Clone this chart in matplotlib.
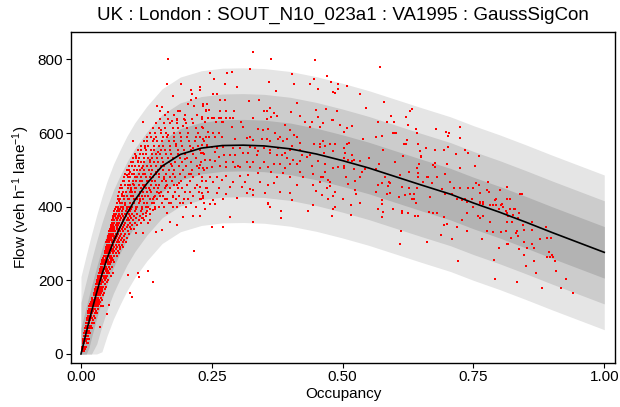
import matplotlib
matplotlib.use("Agg")
import matplotlib.pyplot as plt
import numpy as np

plt.rcParams['font.family'] = ['Liberation Sans', 'DejaVu Sans']
plt.rcParams['mathtext.fontset'] = 'custom'
plt.rcParams['mathtext.rm'] = 'Liberation Sans'
plt.rcParams['mathtext.it'] = 'Liberation Sans:italic'

title = "UK : London : SOUT_N10_023a1 : VA1995 : GaussSigCon"
x_label = "Occupancy"
y_label = r"Flow (veh h$^{-1}$ lane$^{-1}$)"
x_ticks = [0.0, 0.25, 0.5, 0.75, 1.0]
x_tick_labels = ["0.00", "0.25", "0.50", "0.75", "1.00"]
y_ticks = [0, 200, 400, 600, 800]

# fitted model curve
curve_occ = [0, 0.005, 0.01, 0.015, 0.02, 0.03, 0.04, 0.05, 0.062, 0.075, 0.088, 0.103,
             0.126, 0.155, 0.19, 0.23, 0.27, 0.31, 0.35, 0.40, 0.45, 0.50, 0.55,
             0.60, 0.65, 0.706, 0.75, 0.80, 0.85, 0.90, 0.95, 1.0]
curve_flow = [0, 29, 58, 86, 114, 167, 216, 260, 305, 345, 382, 418,
              463, 510, 542, 559, 566, 567, 565, 557, 543, 525, 505,
              482, 459, 434, 410, 385, 358, 330, 303, 276]
sigma = 70
band_k = [3, 2, 1]
band_colors = ['#e5e5e5', '#cccccc', '#b3b3b3']

# observations, low occupancy: rows of equal flow
low_row_flow = [7, 14, 20, 29, 35, 42, 49, 56, 63, 70, 77, 84, 91, 98, 104, 111, 117, 123,
                129, 135, 141, 147, 153, 159, 165, 171, 177, 183, 189, 195, 201, 207,
                213, 219, 225, 231, 237, 243, 249, 255, 261, 267, 273, 279, 285, 291,
                297, 303, 309, 315, 321, 327, 333, 339, 345, 351, 357, 363, 369, 375,
                381, 387, 393]
low_row_occ = [
    [0.001, 0.002, 0.004, 0.006],
    [0.001, 0.003, 0.005, 0.008],
    [0.002, 0.004, 0.007, 0.009],
    [0.003, 0.004, 0.006, 0.011, 0.013],
    [0.004, 0.008, 0.010],
    [0.004, 0.006, 0.009, 0.012, 0.015],
    [0.005, 0.008, 0.011, 0.013],
    [0.006, 0.007, 0.010, 0.014, 0.017],
    [0.007, 0.009, 0.012, 0.016],
    [0.008, 0.011, 0.013, 0.015, 0.019, 0.022],
    [0.009, 0.012, 0.017, 0.020],
    [0.010, 0.011, 0.014, 0.016, 0.021, 0.025],
    [0.011, 0.013, 0.018, 0.023],
    [0.012, 0.014, 0.016, 0.019, 0.022, 0.027],
    [0.013, 0.015, 0.020, 0.024],
    [0.013, 0.016, 0.019, 0.021, 0.026, 0.030],
    [0.014, 0.018, 0.023, 0.028],
    [0.015, 0.017, 0.020, 0.025, 0.027, 0.033],
    [0.016, 0.019, 0.022, 0.024, 0.029, 0.032, 0.038, 0.043],
    [0.018, 0.021, 0.026, 0.030, 0.035],
    [0.019, 0.023, 0.025, 0.028, 0.033, 0.037],
    [0.021, 0.024, 0.027, 0.031, 0.034, 0.040],
    [0.022, 0.026, 0.029, 0.033, 0.038],
    [0.024, 0.027, 0.030, 0.032, 0.036, 0.042],
    [0.025, 0.028, 0.031, 0.035, 0.039, 0.044],
    [0.026, 0.030, 0.033, 0.037, 0.041],
    [0.027, 0.029, 0.032, 0.036, 0.040, 0.046],
    [0.028, 0.031, 0.034, 0.038, 0.043, 0.047],
    [0.029, 0.033, 0.036, 0.039, 0.045],
    [0.030, 0.032, 0.035, 0.040, 0.043, 0.049],
    [0.031, 0.034, 0.037, 0.041, 0.046, 0.051],
    [0.032, 0.036, 0.039, 0.044, 0.048],
    [0.033, 0.035, 0.038, 0.042, 0.045, 0.050, 0.057],
    [0.034, 0.037, 0.041, 0.044, 0.049, 0.053, 0.061],
    [0.036, 0.040, 0.043, 0.047, 0.052],
    [0.037, 0.039, 0.042, 0.046, 0.050, 0.055],
    [0.038, 0.041, 0.045, 0.048, 0.053, 0.059],
    [0.039, 0.043, 0.046, 0.051, 0.056],
    [0.040, 0.042, 0.045, 0.049, 0.054, 0.058, 0.064],
    [0.041, 0.044, 0.048, 0.052, 0.057, 0.062],
    [0.043, 0.047, 0.050, 0.055, 0.060],
    [0.044, 0.046, 0.049, 0.053, 0.058, 0.063, 0.068],
    [0.045, 0.048, 0.052, 0.056, 0.061, 0.066, 0.072],
    [0.046, 0.050, 0.054, 0.059, 0.064, 0.070],
    [0.047, 0.049, 0.053, 0.057, 0.062, 0.067, 0.075],
    [0.048, 0.051, 0.055, 0.058, 0.063, 0.069, 0.074, 0.080],
    [0.049, 0.053, 0.057, 0.061, 0.066, 0.072, 0.078],
    [0.047, 0.050, 0.054, 0.059, 0.064, 0.068, 0.073, 0.081, 0.086],
    [0.050, 0.052, 0.056, 0.060, 0.065, 0.070, 0.076, 0.083],
    [0.051, 0.055, 0.058, 0.063, 0.067, 0.072, 0.079, 0.088],
    [0.052, 0.056, 0.060, 0.064, 0.069, 0.075, 0.082],
    [0.053, 0.055, 0.059, 0.062, 0.066, 0.071, 0.077, 0.085, 0.092],
    [0.054, 0.058, 0.061, 0.065, 0.070, 0.074, 0.080, 0.089],
    [0.055, 0.059, 0.063, 0.068, 0.072, 0.078, 0.084, 0.095, 0.101],
    [0.057, 0.060, 0.064, 0.069, 0.075, 0.081, 0.087, 0.093],
    [0.058, 0.062, 0.066, 0.071, 0.076, 0.083, 0.090, 0.098, 0.107],
    [0.059, 0.063, 0.068, 0.073, 0.079, 0.085, 0.094, 0.103, 0.114],
    [0.060, 0.064, 0.069, 0.074, 0.080, 0.087, 0.091, 0.099, 0.110, 0.121],
    [0.061, 0.066, 0.071, 0.077, 0.083, 0.089, 0.096, 0.106, 0.117],
    [0.062, 0.065, 0.070, 0.075, 0.081, 0.086, 0.093, 0.101, 0.112, 0.125],
    [0.063, 0.067, 0.072, 0.078, 0.084, 0.091, 0.098, 0.108, 0.119, 0.131],
    [0.064, 0.068, 0.073, 0.079, 0.086, 0.094, 0.103, 0.114, 0.127],
    [0.065, 0.070, 0.075, 0.081, 0.088, 0.096, 0.105, 0.117, 0.131, 0.142],
]

# observations, dense core: rows of equal flow
dense_row_flow = [400, 410, 420, 430, 440, 450, 460, 470, 480, 490, 500, 510, 521,
                  532, 543, 554, 565, 577, 589, 601, 613, 626, 639, 650]
dense_row_occ = [
    [0.066, 0.070, 0.077, 0.080, 0.088, 0.091, 0.097, 0.105, 0.108, 0.117, 0.124, 0.129, 0.141, 0.149, 0.158, 0.175, 0.183, 0.201, 0.219],
    [0.068, 0.075, 0.079, 0.085, 0.094, 0.099, 0.102, 0.111, 0.120, 0.126, 0.135, 0.139, 0.154, 0.168, 0.172, 0.190, 0.211, 0.236],
    [0.071, 0.074, 0.083, 0.089, 0.092, 0.101, 0.107, 0.113, 0.118, 0.131, 0.137, 0.146, 0.160, 0.165, 0.181, 0.196, 0.205, 0.228],
    [0.070, 0.078, 0.082, 0.087, 0.096, 0.100, 0.110, 0.116, 0.123, 0.128, 0.142, 0.151, 0.157, 0.176, 0.187, 0.214, 0.233],
    [0.073, 0.080, 0.086, 0.093, 0.097, 0.104, 0.113, 0.119, 0.127, 0.134, 0.145, 0.152, 0.167, 0.179, 0.199, 0.208, 0.226],
    [0.075, 0.079, 0.089, 0.095, 0.103, 0.106, 0.115, 0.124, 0.130, 0.140, 0.147, 0.161, 0.170, 0.186, 0.193, 0.218, 0.239],
    [0.077, 0.084, 0.090, 0.094, 0.101, 0.110, 0.118, 0.122, 0.133, 0.143, 0.150, 0.164, 0.178, 0.184, 0.203, 0.222],
    [0.080, 0.083, 0.092, 0.099, 0.105, 0.112, 0.117, 0.128, 0.136, 0.141, 0.155, 0.162, 0.174, 0.192, 0.209, 0.231],
    [0.082, 0.089, 0.093, 0.103, 0.108, 0.114, 0.125, 0.131, 0.138, 0.149, 0.158, 0.171, 0.180, 0.198, 0.215],
    [0.084, 0.091, 0.098, 0.102, 0.111, 0.119, 0.123, 0.134, 0.144, 0.150, 0.163, 0.176, 0.189, 0.206, 0.226],
    [0.088, 0.092, 0.101, 0.107, 0.112, 0.121, 0.130, 0.136, 0.147, 0.156, 0.168, 0.177, 0.195, 0.213, 0.235],
    [0.091, 0.097, 0.104, 0.110, 0.118, 0.126, 0.133, 0.144, 0.152, 0.159, 0.173, 0.187, 0.200, 0.221],
    [0.095, 0.100, 0.109, 0.115, 0.121, 0.132, 0.139, 0.148, 0.157, 0.169, 0.180, 0.194, 0.211, 0.229],
    [0.099, 0.106, 0.111, 0.120, 0.128, 0.135, 0.146, 0.154, 0.166, 0.175, 0.189, 0.203, 0.219],
    [0.104, 0.112, 0.118, 0.125, 0.136, 0.143, 0.151, 0.163, 0.172, 0.186, 0.198, 0.214, 0.236],
    [0.109, 0.115, 0.124, 0.133, 0.140, 0.152, 0.160, 0.171, 0.185, 0.196, 0.210, 0.227],
    [0.114, 0.122, 0.128, 0.139, 0.149, 0.157, 0.170, 0.181, 0.193, 0.208, 0.224, 0.241],
    [0.120, 0.127, 0.137, 0.146, 0.155, 0.168, 0.178, 0.192, 0.206, 0.218, 0.235],
    [0.126, 0.134, 0.143, 0.156, 0.165, 0.177, 0.191, 0.203, 0.220, 0.238],
    [0.131, 0.142, 0.153, 0.163, 0.178, 0.189, 0.205, 0.224],
    [0.138, 0.149, 0.161, 0.175, 0.186, 0.203, 0.219, 0.234],
    [0.144, 0.158, 0.170, 0.184, 0.201, 0.215],
    [0.151, 0.166, 0.183, 0.197, 0.213, 0.232],
    [0.160, 0.178, 0.199, 0.222],
]

# observations, scattered points (occupancy, flow)
pts_dense_extra = [
    (0.085, 405), (0.112, 416), (0.139, 426), (0.096, 446), (0.121, 455), (0.158, 475),
    (0.088, 485), (0.143, 495), (0.117, 505), (0.172, 515), (0.131, 527), (0.105, 537),
    (0.148, 548), (0.122, 560), (0.181, 571), (0.140, 583), (0.166, 595), (0.152, 607),
    (0.195, 620), (0.173, 632), (0.186, 660), (0.205, 680), (0.175, 700), (0.212, 705),
    (0.100, 462), (0.078, 435), (0.072, 415), (0.131, 445), (0.163, 455), (0.187, 465),
    (0.210, 490), (0.225, 505), (0.198, 530), (0.230, 545), (0.215, 560), (0.109, 525),
    (0.094, 495), (0.127, 470), (0.150, 437), (0.176, 425), (0.195, 410), (0.230, 420),
    (0.239, 470),
]
pts_upper_left = [
    (0.166, 800), (0.165, 733), (0.192, 734), (0.211, 718), (0.227, 718), (0.210, 691),
    (0.220, 694), (0.216, 673), (0.234, 674), (0.239, 662), (0.145, 674), (0.154, 671),
    (0.151, 659), (0.167, 658), (0.119, 630), (0.100, 578), (0.190, 659), (0.199, 635),
    (0.183, 635), (0.243, 640),
]
pts_middle = [
    (0.329, 819), (0.363, 800), (0.447, 798), (0.323, 775), (0.247, 764), (0.280, 764),
    (0.289, 766), (0.254, 748), (0.470, 755), (0.403, 759), (0.275, 734), (0.298, 725),
    (0.359, 739), (0.407, 734), (0.438, 734), (0.445, 748), (0.228, 725), (0.373, 714),
    (0.452, 719), (0.253, 707), (0.259, 705), (0.322, 687), (0.341, 689), (0.266, 689),
    (0.275, 689), (0.234, 678), (0.241, 680), (0.239, 660), (0.245, 662), (0.266, 660),
    (0.277, 660), (0.292, 660), (0.349, 660), (0.355, 660), (0.361, 667), (0.412, 682),
    (0.401, 658), (0.369, 655), (0.375, 646), (0.450, 662), (0.468, 664), (0.232, 644),
    (0.250, 642), (0.254, 642), (0.263, 641), (0.278, 642), (0.284, 642), (0.267, 640),
    (0.291, 642), (0.329, 642), (0.355, 638), (0.364, 644), (0.419, 646), (0.452, 644),
    (0.428, 631), (0.441, 631), (0.438, 615), (0.457, 615), (0.463, 628), (0.237, 631),
    (0.258, 630), (0.269, 631), (0.272, 631), (0.288, 615), (0.305, 631), (0.310, 615),
    (0.347, 608), (0.339, 610), (0.358, 610), (0.371, 599), (0.390, 621), (0.399, 608),
    (0.380, 590), (0.377, 584), (0.393, 583), (0.407, 594), (0.412, 588), (0.231, 615),
    (0.243, 603), (0.253, 601), (0.263, 599), (0.228, 590), (0.233, 585), (0.245, 590),
    (0.256, 588), (0.269, 588), (0.294, 584), (0.317, 587), (0.323, 588), (0.329, 581),
    (0.345, 584), (0.355, 583), (0.361, 579), (0.387, 579), (0.403, 564), (0.419, 572),
    (0.445, 570), (0.456, 570), (0.466, 564), (0.231, 567), (0.240, 567), (0.250, 563),
    (0.259, 558), (0.272, 563), (0.291, 558), (0.304, 558), (0.323, 561), (0.333, 560),
    (0.339, 551), (0.349, 558), (0.361, 554), (0.377, 558), (0.390, 547), (0.399, 554),
    (0.419, 554), (0.422, 540), (0.438, 540), (0.464, 546), (0.234, 545), (0.256, 549),
    (0.264, 536), (0.273, 540), (0.284, 540), (0.294, 540), (0.310, 545), (0.320, 545),
    (0.336, 540), (0.361, 545), (0.374, 540), (0.384, 540), (0.393, 531), (0.406, 527),
    (0.419, 525), (0.431, 534), (0.237, 527), (0.247, 527), (0.256, 525), (0.277, 522),
    (0.291, 522), (0.301, 511), (0.317, 522), (0.329, 522), (0.349, 522), (0.368, 517),
    (0.380, 517), (0.399, 516), (0.412, 517), (0.441, 510), (0.452, 525), (0.466, 517),
    (0.228, 513), (0.234, 504), (0.240, 504), (0.250, 508), (0.266, 510), (0.278, 508),
    (0.294, 508), (0.304, 508), (0.323, 508), (0.342, 504), (0.358, 508), (0.390, 504),
    (0.364, 495), (0.387, 492), (0.419, 495), (0.444, 490), (0.466, 495), (0.231, 481),
    (0.247, 481), (0.259, 481), (0.278, 483), (0.304, 483), (0.320, 486), (0.339, 492),
    (0.374, 481), (0.399, 481), (0.425, 481), (0.458, 481), (0.473, 472), (0.253, 468),
    (0.269, 472), (0.291, 468), (0.314, 468), (0.342, 468), (0.358, 459), (0.368, 465),
    (0.412, 459), (0.444, 459), (0.457, 468), (0.228, 454), (0.240, 450), (0.263, 450),
    (0.285, 454), (0.307, 454), (0.323, 447), (0.231, 436), (0.243, 441), (0.259, 436),
    (0.277, 434), (0.317, 436), (0.329, 445), (0.352, 436), (0.380, 441), (0.399, 436),
    (0.450, 443), (0.470, 450), (0.234, 423), (0.253, 418), (0.272, 420), (0.298, 423),
    (0.329, 432), (0.358, 409), (0.403, 418), (0.444, 405), (0.247, 406), (0.256, 407),
    (0.361, 400), (0.237, 395),
]
pts_upper_right = [
    (0.572, 780), (0.470, 755), (0.477, 739), (0.492, 734), (0.508, 728), (0.482, 712),
    (0.486, 709), (0.492, 719), (0.533, 705), (0.580, 683), (0.544, 667), (0.468, 664),
    (0.490, 659), (0.632, 665), (0.628, 660), (0.593, 646), (0.621, 644), (0.479, 635),
    (0.482, 635), (0.568, 631), (0.584, 631), (0.599, 630), (0.495, 623), (0.518, 619),
    (0.625, 621), (0.508, 613), (0.502, 603), (0.640, 611), (0.679, 611), (0.698, 602),
    (0.704, 601), (0.701, 593), (0.725, 615), (0.596, 599), (0.599, 599), (0.602, 599),
    (0.642, 599), (0.564, 590), (0.575, 591), (0.539, 583), (0.725, 586), (0.623, 581),
    (0.463, 579), (0.618, 571), (0.621, 570), (0.645, 570), (0.659, 559), (0.513, 574),
    (0.508, 569), (0.502, 558), (0.486, 570), (0.476, 569), (0.578, 554), (0.677, 555),
    (0.693, 554), (0.648, 552), (0.702, 563), (0.717, 543), (0.734, 554), (0.740, 545),
    (0.457, 563), (0.482, 551), (0.505, 547), (0.518, 540), (0.502, 531), (0.511, 527),
    (0.518, 525), (0.521, 528), (0.551, 531), (0.533, 524), (0.492, 508), (0.502, 511),
    (0.502, 505), (0.481, 504), (0.521, 501), (0.570, 516), (0.543, 502), (0.564, 502),
    (0.600, 522), (0.615, 538), (0.649, 537), (0.649, 534), (0.646, 517), (0.672, 513),
    (0.677, 519), (0.677, 508), (0.699, 517), (0.725, 504), (0.626, 495), (0.643, 504),
    (0.644, 492), (0.664, 481), (0.680, 480), (0.695, 490), (0.661, 480), (0.463, 480),
    (0.506, 480), (0.533, 480), (0.537, 494), (0.581, 481), (0.575, 463), (0.568, 459),
    (0.610, 486), (0.645, 480), (0.588, 468), (0.591, 463), (0.586, 457), (0.613, 454),
    (0.626, 450), (0.642, 450), (0.653, 468), (0.670, 463), (0.690, 447), (0.705, 468),
    (0.712, 450), (0.725, 450), (0.740, 450), (0.728, 418), (0.476, 468), (0.476, 456),
    (0.510, 461), (0.524, 470), (0.524, 445), (0.526, 434), (0.486, 439), (0.482, 429),
    (0.460, 432), (0.473, 420), (0.500, 420), (0.564, 440), (0.584, 434), (0.590, 436),
    (0.619, 432), (0.629, 434), (0.637, 434), (0.608, 427), (0.575, 419), (0.575, 406),
    (0.632, 420), (0.637, 420), (0.640, 411), (0.667, 427), (0.695, 434), (0.709, 434),
    (0.718, 420), (0.733, 420), (0.737, 414), (0.533, 409), (0.516, 405), (0.486, 400),
    (0.481, 395), (0.568, 395), (0.596, 395), (0.578, 385), (0.613, 389), (0.613, 382),
    (0.624, 384), (0.639, 376), (0.645, 376), (0.666, 386), (0.672, 384), (0.693, 373),
    (0.680, 384), (0.728, 364), (0.737, 384), (0.480, 375), (0.516, 377), (0.575, 371),
    (0.693, 350), (0.699, 352), (0.718, 344), (0.737, 335), (0.688, 324), (0.709, 311),
    (0.611, 335), (0.609, 300), (0.662, 304), (0.721, 253),
]
pts_right = [
    (0.760, 538), (0.753, 510), (0.750, 450), (0.755, 465), (0.760, 459), (0.762, 436),
    (0.777, 466), (0.776, 445), (0.779, 439), (0.800, 444), (0.814, 454), (0.839, 434),
    (0.842, 434), (0.814, 420), (0.820, 420), (0.793, 420), (0.781, 404), (0.788, 404),
    (0.769, 413), (0.763, 412), (0.747, 422), (0.830, 395), (0.804, 407), (0.763, 411),
    (0.768, 407), (0.782, 404), (0.793, 404), (0.802, 404), (0.791, 418), (0.750, 398),
    (0.758, 375), (0.763, 368), (0.769, 375), (0.782, 359), (0.798, 395), (0.806, 398),
    (0.813, 388), (0.814, 382), (0.816, 376), (0.825, 377), (0.820, 395), (0.828, 395),
    (0.838, 382), (0.835, 368), (0.823, 359), (0.814, 359), (0.813, 334), (0.803, 332),
    (0.788, 332), (0.776, 335), (0.767, 312), (0.798, 289), (0.833, 335), (0.832, 328),
    (0.836, 321), (0.817, 300), (0.815, 299), (0.822, 314), (0.844, 350), (0.862, 359),
    (0.846, 337), (0.862, 338), (0.889, 346), (0.878, 312), (0.891, 314), (0.899, 314),
    (0.847, 303), (0.853, 289), (0.862, 298), (0.865, 287), (0.838, 284), (0.846, 269),
    (0.851, 240), (0.865, 253), (0.895, 278), (0.900, 269), (0.903, 264), (0.897, 264),
    (0.890, 264), (0.906, 253), (0.908, 225), (0.869, 221), (0.833, 195), (0.791, 204),
    (0.790, 255), (0.881, 180), (0.917, 180), (0.927, 204), (0.941, 165),
]
pts_lower_mid = [
    (0.329, 359), (0.358, 407), (0.361, 400), (0.383, 389), (0.383, 370), (0.433, 389),
    (0.443, 404), (0.195, 373), (0.215, 375), (0.227, 375), (0.237, 395), (0.285, 373),
    (0.250, 346), (0.272, 346), (0.216, 280), (0.144, 332), (0.154, 337), (0.128, 226),
    (0.138, 196), (0.109, 221), (0.111, 210), (0.090, 215), (0.094, 165), (0.097, 156),
    (0.054, 132), (0.049, 108), (0.037, 72), (0.106, 328), (0.118, 328), (0.129, 355),
    (0.132, 364), (0.164, 382), (0.170, 359), (0.183, 350), (0.125, 382), (0.138, 391),
    (0.119, 368),
]

# assemble observations
obs_occ, obs_flow = [], []
for f, occs in zip(low_row_flow + dense_row_flow, low_row_occ + dense_row_occ):
    obs_occ.extend(occs)
    obs_flow.extend([f] * len(occs))
for group in (pts_dense_extra, pts_upper_left, pts_middle, pts_upper_right, pts_right,
              pts_lower_mid):
    for o, f in group:
        obs_occ.append(o)
        obs_flow.append(f)

fig = plt.figure(figsize=(6.2, 4.07), dpi=100)
ax = fig.add_axes([0.1145, 0.1089, 0.8774, 0.8113])

c_occ = np.array(curve_occ)
c_flow = np.array(curve_flow)
for k, col in zip(band_k, band_colors):
    lo = np.maximum(c_flow - k * sigma, 0)
    hi = c_flow + k * sigma
    ax.fill_between(c_occ, lo, hi, color=col, linewidth=0, zorder=1)

ax.plot(obs_occ, obs_flow, linestyle='none', marker='s', markersize=1.5,
        markeredgewidth=0, color='#ff0000', zorder=2)
ax.plot(c_occ, c_flow, color='black', linewidth=1.2, zorder=3)

ax.set_xlim(-0.0191, 1.0205)
ax.set_ylim(-23.6, 873)
ax.set_xticks(x_ticks)
ax.set_xticklabels(x_tick_labels)
ax.set_yticks(y_ticks)
ax.tick_params(direction='out', length=3.5, width=0.8, labelsize=11, pad=2, colors='black')
for s in ax.spines.values():
    s.set_linewidth(1.0)
    s.set_color('black')
ax.set_xlabel(x_label, fontsize=11, labelpad=2)
ax.set_ylabel(y_label, fontsize=11, labelpad=4)
ax.set_title(title, fontsize=13.5, pad=9)

fig.savefig("out.png", dpi=100)
